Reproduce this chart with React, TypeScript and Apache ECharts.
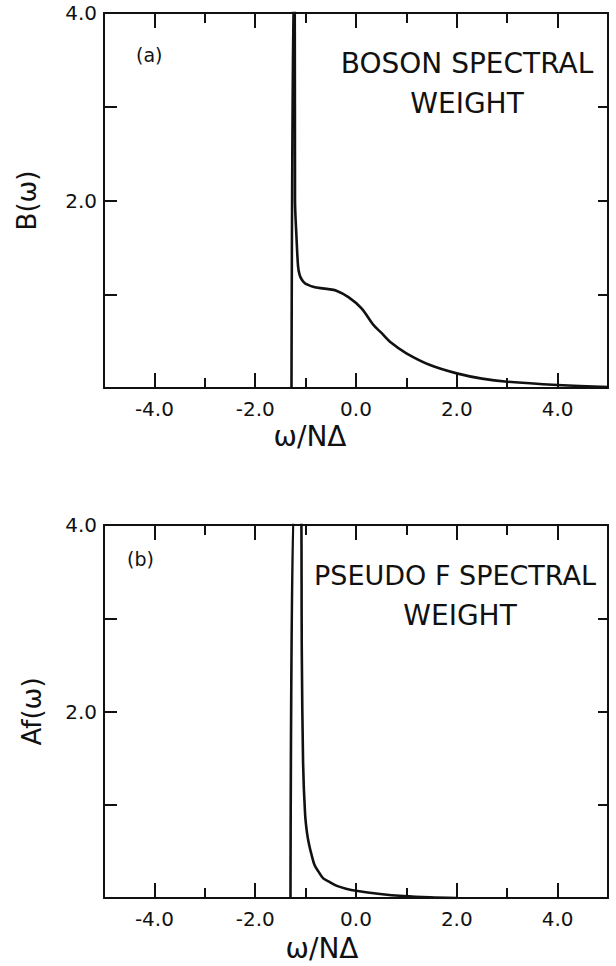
import React, { useEffect, useRef } from "react";
import * as echarts from "echarts";

// ---- data ----
// Panel (a): boson spectral weight B(ω) vs ω/NΔ (peak runs off the top of the frame)
const omegaB = [-1.28, -1.243, -1.222, -1.212, -1.21, -1.18, -1.15, -1.12, -1.08, -1.02, -0.95, -0.85, -0.7, -0.55, -0.4, -0.15, 0.11, 0.35, 0.5, 0.68, 1.0, 1.47, 2.0, 2.5, 3.0, 4.0, 5.0];
const weightB = [0, 4.3, 4.3, 3.0, 2.0, 1.6, 1.3, 1.21, 1.16, 1.12, 1.1, 1.08, 1.065, 1.055, 1.04, 0.97, 0.85, 0.67, 0.59, 0.49, 0.37, 0.245, 0.156, 0.1, 0.067, 0.032, 0.01];

// Panel (b): pseudo-fermion spectral weight Af(ω) vs ω/NΔ (peak runs off the top of the frame)
const omegaAf = [-1.3, -1.225, -1.095, -1.075, -1.05, -1.01, -0.97, -0.93, -0.88, -0.82, -0.74, -0.65, -0.52, -0.38, -0.2, 0.0, 0.48, 0.94, 1.47, 2.0];
const weightAf = [0, 4.3, 4.3, 2.6, 1.45, 0.9, 0.69, 0.57, 0.46, 0.35, 0.28, 0.21, 0.17, 0.13, 0.1, 0.077, 0.043, 0.021, 0.007, 0.0];

const xMajorTicks = [-4, -2, 0, 2, 4];
const xMinorTicks = [-3, -1, 1, 3];
const yTickValues = [1, 2, 3];
const yLabelValues = [2, 4];

const xLabelText = "ω/NΔ";
const yLabelA = "B(ω)";
const yLabelB = "Af(ω)";

const INK = "#111";
const FONT = "DejaVu Sans";

const line = { color: INK, width: 2 };

function xAxisFor(gridIndex: number, position: "top" | "bottom", ticks: number[], len: number, extra: any = {}) {
  return {
    type: "value",
    gridIndex,
    position,
    min: -5,
    max: 5,
    axisLine: { show: true, onZero: false, lineStyle: line },
    axisTick: { show: true, inside: true, length: len, customValues: ticks, lineStyle: line },
    axisLabel: { show: false },
    splitLine: { show: false },
    ...extra,
  };
}

function yAxisFor(gridIndex: number, position: "left" | "right", len: number, extra: any = {}) {
  return {
    type: "value",
    gridIndex,
    position,
    min: 0,
    max: 4,
    axisLine: { show: true, onZero: false, lineStyle: line },
    axisTick: { show: true, inside: true, length: len, customValues: yTickValues, lineStyle: line },
    axisLabel: { show: false },
    splitLine: { show: false },
    ...extra,
  };
}

function bottomMajor(gridIndex: number, nameGap: number, padRight: number) {
  return xAxisFor(gridIndex, "bottom", xMajorTicks, 15, {
    axisLabel: {
      show: true,
      customValues: xMajorTicks,
      formatter: (v: number) => v.toFixed(1),
      fontSize: 20,
      fontFamily: FONT,
      color: INK,
      margin: 11,
    },
    name: xLabelText,
    nameLocation: "middle",
    nameGap,
    nameMoveOverlap: false,
    nameTextStyle: { fontSize: 28, fontFamily: FONT, color: INK, padding: [0, padRight, 0, 0] },
  });
}

function leftAxis(gridIndex: number, name: string, nameGap: number) {
  return yAxisFor(gridIndex, "left", 13, {
    axisLabel: {
      show: true,
      customValues: yLabelValues,
      formatter: (v: number) => v.toFixed(1),
      fontSize: 20,
      fontFamily: FONT,
      color: INK,
      margin: 7,
      showMaxLabel: true,
    },
    name,
    nameLocation: "middle",
    nameGap,
    nameMoveOverlap: false,
    nameTextStyle: { fontSize: 26, fontFamily: FONT, color: INK },
  });
}

function hiddenY(gridIndex: number) {
  return { type: "value", gridIndex, min: 0, max: 4, show: false, splitLine: { show: false } };
}

function txt(text: string, x: number, y: number, size: number, align: string = "left") {
  return {
    type: "text",
    x,
    y,
    silent: true,
    style: { text, fill: INK, font: `${size}px "${FONT}"`, textAlign: align, textVerticalAlign: "middle" },
  };
}

function curve(xAxisIndex: number, yAxisIndex: number, xs: number[], ys: number[]) {
  return {
    type: "line",
    xAxisIndex,
    yAxisIndex,
    data: xs.map((w, i) => [w, ys[i]]),
    symbol: "none",
    showSymbol: false,
    smooth: 0.3,
    lineStyle: { color: INK, width: 2.6 },
    clip: true,
    silent: true,
    z: 3,
  };
}

export default function App() {
  const ref = useRef<HTMLDivElement>(null);

  useEffect(() => {
    if (!ref.current) return;
    const chart = echarts.init(ref.current, undefined, { renderer: "svg" });
    const gridA = { left: 104, right: 8, top: 13, height: 375 };
    const gridB = { left: 104, right: 8, top: 525, height: 373 };
    chart.setOption({
      animation: false,
      backgroundColor: "#fff",
      grid: [gridA, { ...gridA }, gridB, { ...gridB }],
      xAxis: [
        bottomMajor(0, 34, 92),
        xAxisFor(0, "top", xMajorTicks, 15),
        xAxisFor(1, "bottom", xMinorTicks, 10, { axisLine: { show: false, onZero: false } }),
        xAxisFor(1, "top", xMinorTicks, 10, { axisLine: { show: false, onZero: false } }),
        bottomMajor(2, 36, 68),
        xAxisFor(2, "top", xMajorTicks, 15),
        xAxisFor(3, "bottom", xMinorTicks, 10, { axisLine: { show: false, onZero: false } }),
        xAxisFor(3, "top", xMinorTicks, 10, { axisLine: { show: false, onZero: false } }),
      ],
      yAxis: [
        leftAxis(0, yLabelA, 64),
        yAxisFor(0, "right", 10),
        hiddenY(1),
        leftAxis(2, yLabelB, 59),
        yAxisFor(2, "right", 10),
        hiddenY(3),
      ],
      series: [
        curve(0, 0, omegaB, weightB),
        curve(4, 3, omegaAf, weightAf),
      ],
      graphic: [
        txt("(a)", 136, 55, 19),
        txt("BOSON SPECTRAL", 467, 63, 28, "center"),
        txt("WEIGHT", 467, 103, 28, "center"),
        txt("(b)", 127, 559, 19),
        txt("PSEUDO F SPECTRAL", 455, 575, 27, "center"),
        txt("WEIGHT", 460, 615, 28, "center"),
      ],
    });
    return () => chart.dispose();
  }, []);

  return (
    <div
      ref={ref}
      style={{ position: "absolute", left: 0, top: 0, width: 616, height: 966, background: "#fff" }}
    />
  );
}
